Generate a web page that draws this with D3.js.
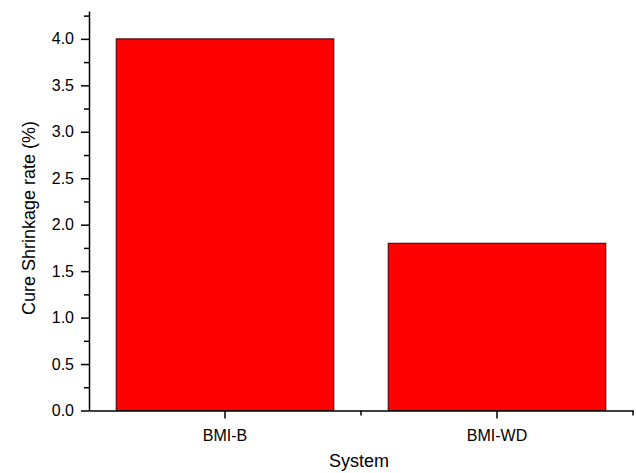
<!DOCTYPE html>
<html>
<head>
<meta charset="utf-8">
<script src="https://cdn.jsdelivr.net/npm/d3@7"></script>
<style>
  body { margin: 0; background: #fff; }
  text { font-family: "Liberation Sans", Arial, sans-serif; }
</style>
</head>
<body>
<script>
// data
var systems = ["BMI-B", "BMI-WD"];
var shrinkage = [4.0, 1.8];
var majorTicks = [0, 0.5, 1.0, 1.5, 2.0, 2.5, 3.0, 3.5, 4.0];
var minorTicks = [0.25, 0.75, 1.25, 1.75, 2.25, 2.75, 3.25, 3.75, 4.25];

var width = 636;
var height = 473;

var svg = d3.select("body").append("svg")
    .attr("width", width)
    .attr("height", height);

var x = d3.scaleBand()
    .domain(systems)
    .range([89, 633])
    .paddingInner(0.2)
    .paddingOuter(0.1);

var y = d3.scaleLinear()
    .domain([0, 4.3])
    .range([410.5, 11]);

// bars
svg.selectAll("rect.bar")
    .data(systems)
    .enter()
    .append("rect")
    .attr("class", "bar")
    .attr("x", function(d) { return x(d); })
    .attr("y", function(d, i) { return y(shrinkage[i]); })
    .attr("width", x.bandwidth())
    .attr("height", function(d, i) { return y(0) - y(shrinkage[i]); })
    .attr("fill", "#ff0000")
    .attr("stroke", "#3a0000")
    .attr("stroke-width", 1);

// y axis
var yAxis = svg.append("g")
    .attr("transform", "translate(89,0)")
    .call(d3.axisLeft(y).tickValues(majorTicks).tickFormat(d3.format(".1f")).tickSize(8).tickSizeOuter(0).tickPadding(7));

svg.append("g")
    .attr("transform", "translate(89,0)")
    .call(d3.axisLeft(y).tickValues(minorTicks).tickFormat("").tickSize(5).tickSizeOuter(0))
    .select(".domain").remove();

// x axis, major ticks at the centres, minor ticks at the band edges
var xAxis = svg.append("g")
    .attr("transform", "translate(0," + y(0) + ")")
    .call(d3.axisBottom(x).tickSize(8).tickSizeOuter(0).tickPadding(11));

var edges = systems.map(function(d) { return x(d) + x.step() * 0.9; });
svg.append("g")
    .attr("transform", "translate(0," + y(0) + ")")
    .selectAll("line")
    .data(edges)
    .enter()
    .append("line")
    .attr("x1", function(d) { return d; })
    .attr("x2", function(d) { return d; })
    .attr("y1", 0)
    .attr("y2", 5)
    .attr("stroke", "#000")
    .attr("stroke-width", 1.5);

svg.selectAll(".tick text")
    .attr("font-size", 16)
    .attr("font-family", "Liberation Sans, Arial, sans-serif")
    .attr("fill", "#000");
svg.selectAll(".domain, .tick line")
    .attr("stroke", "#000")
    .attr("stroke-width", 1.5);

// axis titles
svg.append("text")
    .attr("x", 359)
    .attr("y", 467)
    .attr("text-anchor", "middle")
    .attr("font-size", 18)
    .text("System");

svg.append("text")
    .attr("transform", "translate(35,218) rotate(-90)")
    .attr("text-anchor", "middle")
    .attr("font-size", 18)
    .text("Cure Shrinkage rate (%)");
</script>
</body>
</html>
